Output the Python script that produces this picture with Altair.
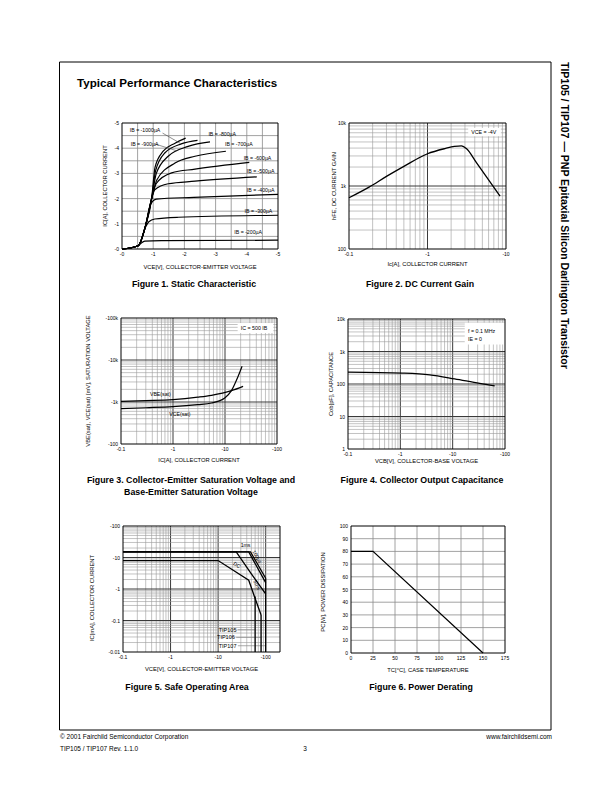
import altair as alt
import pandas as pd

FONT = "Liberation Sans"
W, H = 596, 776
M = 8  # page margin

# ---------------- Figure 1: static characteristic (|VCE| [V], |IC| [A]) ----------------
f1_v_200 = [0, 0.52, 0.62, 0.73, 1.27, 5.0]
f1_i_200 = [0, 0.13, 0.24, 0.31, 0.33, 0.35]
f1_v_300 = [0, 0.52, 0.75, 0.86, 1.05, 1.8, 5.0]
f1_i_300 = [0, 0.13, 0.85, 1.08, 1.19, 1.26, 1.34]
f1_v_400 = [0, 0.52, 0.75, 0.92, 1.1, 2.3, 5.0]
f1_i_400 = [0, 0.13, 0.9, 1.78, 1.98, 2.05, 2.17]
f1_v_500 = [0, 0.52, 0.75, 0.95, 1.05, 1.48, 2.34, 4.32]
f1_i_500 = [0, 0.13, 0.9, 2.0, 2.35, 2.59, 2.69, 2.86]
f1_v_600 = [0, 0.52, 0.75, 0.95, 1.1, 1.59, 2.34, 4.08]
f1_i_600 = [0, 0.13, 0.9, 2.0, 2.6, 3.02, 3.17, 3.44]
f1_v_700 = [0, 0.52, 0.75, 0.95, 1.12, 1.7, 2.34, 3.33]
f1_i_700 = [0, 0.13, 0.9, 2.0, 2.75, 3.41, 3.68, 3.88]
f1_v_800 = [0, 0.52, 0.75, 0.95, 1.1, 1.48, 2.12, 2.82]
f1_i_800 = [0, 0.13, 0.9, 2.0, 3.0, 3.68, 4.07, 4.25]
f1_v_900 = [0, 0.52, 0.75, 0.95, 1.08, 1.37, 1.9, 2.42]
f1_i_900 = [0, 0.13, 0.9, 2.0, 3.12, 3.81, 4.17, 4.31]
f1_v_1000 = [0, 0.52, 0.75, 0.95, 1.06, 1.32, 1.7, 2.04]
f1_i_1000 = [0, 0.13, 0.9, 2.0, 3.25, 3.88, 4.2, 4.40]
f1_label_text = ["IB = -1000µA", "IB = -900µA", "IB = -800µA", "IB = -700µA", "IB = -600µA",
                 "IB = -500µA", "IB = -400µA", "IB = -300µA", "IB = -200µA"]
f1_label_v = [0.25, 0.28, 2.77, 3.3, 3.9, 4.0, 4.0, 3.93, 3.6]
f1_label_i = [4.71, 4.17, 4.58, 4.18, 3.61, 3.08, 2.35, 1.49, 0.66]
f1_ptr1_v = [1.3, 1.86]
f1_ptr1_i = [4.6, 4.2]
f1_ptr2_v = [1.05, 1.75]
f1_ptr2_i = [4.17, 3.9]
f1_ticks = [0, 1, 2, 3, 4, 5]
f1_tick_labels = ["-0", "-1", "-2", "-3", "-4", "-5"]

# ---------------- Figure 2: DC current gain ----------------
f2_ic = [0.1, 0.18, 0.3, 0.5, 1.0, 1.7, 2.2, 2.7, 3.15, 4.2, 8.4]
f2_hfe = [650, 960, 1420, 2050, 3250, 3950, 4250, 4350, 3900, 2350, 690]
f2_xticks = [0.1, 1, 10]
f2_xlabels = ["-0.1", "-1", "-10"]
f2_yticks = [100, 1000, 10000]
f2_ylabels = ["100", "1k", "10k"]
f2_box_x = [3.3, 8.6]
f2_box_y = [6150, 8300]
f2_note = "VCE = -4V"
f2_note_x = 3.6
f2_note_y = 7100

# ---------------- Figure 3: saturation voltages (mV) ----------------
f3_ic_vbe = [0.1, 0.3, 1, 3, 5.5, 13.3, 22.3]
f3_vbe = [1040, 1080, 1140, 1300, 1440, 1860, 2360]
f3_ic_vce = [0.1, 0.3, 1, 3, 5.5, 9.9, 13.3, 17.9, 21.3]
f3_vce = [695, 730, 775, 865, 946, 1245, 1860, 4080, 7070]
f3_xticks = [0.1, 1, 10, 100]
f3_xlabels = ["-0.1", "-1", "-10", "-100"]
f3_yticks = [100, 1000, 10000, 100000]
f3_ylabels = ["-100", "-1k", "-10k", "-100k"]
f3_lab_text = ["VBE(sat)", "VCE(sat)"]
f3_lab_x = [0.36, 0.85]
f3_lab_y = [1550, 520]
f3_box_x = [17.5, 85]
f3_box_y = [44000, 76000]
f3_note = "IC = 500 IB"
f3_note_x = 20
f3_note_y = 58000

# ---------------- Figure 4: output capacitance ----------------
f4_vcb = [0.1, 1.09, 3.64, 10.9, 32.8, 63.5]
f4_cob = [232, 216, 192, 144, 104, 88]
f4_xticks = [0.1, 1, 10, 100]
f4_xlabels = ["-0.1", "-1", "-10", "-100"]
f4_yticks = [1, 10, 100, 1000, 10000]
f4_ylabels = ["1", "10", "100", "1k", "10k"]
f4_box_x = [17, 100]
f4_box_y = [1650, 7700]
f4_notes = ["f = 0.1 MHz", "IE = 0"]
f4_note_x = [19.6, 19.6]
f4_note_y = [4270, 2470]

# ---------------- Figure 5: safe operating area ----------------
f5_v_100us = [0.1, 48, 100]
f5_i_100us = [15, 15, 2.2]
f5_v_1ms = [0.1, 44, 100]
f5_i_1ms = [15, 15, 1.6]
f5_v_5ms = [0.1, 24, 50, 100]
f5_i_5ms = [15, 15, 3.0, 0.7]
f5_v_dc = [0.1, 10, 44, 58, 80]
f5_i_dc = [8, 8, 1.9, 0.58, 0.15]
f5_v_tip105 = [60, 60]
f5_i_tip105 = [0.58, 0.01]
f5_v_tip106 = [80, 80]
f5_i_tip106 = [0.15, 0.01]
f5_v_tip107 = [100, 100]
f5_i_tip107 = [2.2, 0.01]
f5_curve_text = ["1ms", "100µs", "DC", "5ms"]
f5_curve_v = [37.7, 66.5, 25, 66.5]
f5_curve_i = [25, 10.7, 5.8, 1.35]
f5_curve_angle = [0, 60, 35, 65]
f5_dev_text = ["TIP105", "TIP106", "TIP107"]
f5_dev_v = [10.3, 9.5, 10.3]
f5_dev_i = [0.051, 0.029, 0.0158]
f5_ptr_v0 = [26, 24, 26]
f5_ptr_v1 = [60, 80, 100]
f5_xticks = [0.1, 1, 10, 100]
f5_xlabels = ["-0.1", "-1", "-10", "-100"]
f5_yticks = [0.01, 0.1, 1, 10, 100]
f5_ylabels = ["-0.01", "-0.1", "-1", "-10", "-100"]

# ---------------- Figure 6: power derating ----------------
f6_tc = [0, 25, 150]
f6_pc = [80, 80, 0]
f6_xticks = [0, 25, 50, 75, 100, 125, 150, 175]
f6_yticks = [0, 10, 20, 30, 40, 50, 60, 70, 80, 90, 100]

captions = ["Figure 1. Static Characteristic", "Figure 2. DC Current Gain",
            "Figure 3. Collector-Emitter Saturation Voltage and", "Base-Emitter Saturation Voltage",
            "Figure 4. Collector Output Capacitance", "Figure 5. Safe Operating Area",
            "Figure 6. Power Derating"]

# ---------------- helpers ----------------
MINOR = dict(color="#9a9a9a", strokeWidth=0.6)
MAJOR = dict(color="#3a3a3a", strokeWidth=1.0)
LIN = dict(color="#8a8a8a", strokeWidth=0.8)


def log_grid(lo, hi):
    minor, major = [], []
    d = lo
    while d < hi:
        for k in range(1, 10):
            v = round(d * k, 10)
            if v <= lo * 1.0001 or v >= hi * 0.9999:
                continue
            (major if k == 1 else minor).append(v)
        d = round(d * 10, 10)
    return minor, major


def curves_df(pairs):
    rows = []
    for name, xs, ys in pairs:
        for i, (a, b) in enumerate(zip(xs, ys)):
            rows.append({"x": a, "y": b, "c": name, "o": i})
    return pd.DataFrame(rows)


def figure(box, xtype, xdom, ytype, ydom, xt, xl, yt, yl, xtitle, ytitle,
           xgrid, ygrid, extra, xtitle_y, ytitle_x, ytitle_y=None):
    x0, y0, x1, y1 = box[0] - M, box[1] - M, box[2] - M, box[3] - M
    xs = alt.Scale(type=xtype, domain=xdom, range=[x0, x1], nice=False)
    ys = alt.Scale(type=ytype, domain=ydom, range=[y1, y0], nice=False)

    def X(f):
        return alt.X(f, scale=xs, axis=None)

    def Y(f):
        return alt.Y(f, scale=ys, axis=None)

    layers = []
    for vals, style in xgrid:
        if vals:
            df = pd.DataFrame({"v": vals, "a": ydom[0], "b": ydom[1]})
            layers.append(alt.Chart(df).mark_rule(**style).encode(
                x=X("v:Q"), y=Y("a:Q"), y2="b:Q"))
    for vals, style in ygrid:
        if vals:
            df = pd.DataFrame({"v": vals, "a": xdom[0], "b": xdom[1]})
            layers.append(alt.Chart(df).mark_rule(**style).encode(
                y=Y("v:Q"), x=X("a:Q"), x2="b:Q"))
    layers += extra(X, Y)
    frame = pd.DataFrame({"a": [xdom[0]], "b": [xdom[1]], "c": [ydom[0]], "d": [ydom[1]]})
    layers.append(alt.Chart(frame).mark_rect(fillOpacity=0, stroke="black", strokeWidth=1).encode(
        x=X("a:Q"), x2="b:Q", y=Y("c:Q"), y2="d:Q"))
    # tick labels (positioned through the scales)
    layers.append(alt.Chart(pd.DataFrame({"v": xt, "t": xl})).mark_text(
        align="center", baseline="top", fontSize=5, font=FONT, color="black").encode(
        x=X("v:Q"), y=alt.value(y1 + 3), text="t:N"))
    layers.append(alt.Chart(pd.DataFrame({"v": yt, "t": yl})).mark_text(
        align="right", baseline="middle", fontSize=5, font=FONT, color="black").encode(
        y=Y("v:Q"), x=alt.value(x0 - 3), text="t:N"))
    # axis titles
    one = pd.DataFrame({"a": [0]})
    layers.append(alt.Chart(one).mark_text(
        text=xtitle, align="center", baseline="middle", fontSize=5.8, font=FONT,
        color="black").encode(x=alt.value((x0 + x1) / 2), y=alt.value(xtitle_y - M)))
    yc = (y0 + y1) / 2 if ytitle_y is None else ytitle_y - M
    layers.append(alt.Chart(one).mark_text(
        text=ytitle, align="center", baseline="middle", fontSize=5.8, font=FONT,
        color="black", angle=270).encode(x=alt.value(ytitle_x - M), y=alt.value(yc)))
    return alt.layer(*layers)


def line_layer(df, X, Y, interp="linear", sw=1.2, color="black"):
    return alt.Chart(df).mark_line(color=color, strokeWidth=sw, interpolate=interp).encode(
        x=X("x:Q"), y=Y("y:Q"), detail="c:N", order="o:Q")


def text_layer(xs_, ys_, ts, X, Y, size=5.3, align="left", angles=None):
    df = pd.DataFrame({"x": xs_, "y": ys_, "t": ts,
                       "ang": angles if angles is not None else [0] * len(ts)})
    return alt.Chart(df).mark_text(align=align, baseline="middle", fontSize=size, font=FONT,
                                   color="black").encode(
        x=X("x:Q"), y=Y("y:Q"), text="t:N", angle=alt.Angle("ang:Q", scale=None))


def box_layer(bx, by, X, Y):
    df = pd.DataFrame({"a": [bx[0]], "b": [bx[1]], "c": [by[0]], "d": [by[1]]})
    return alt.Chart(df).mark_rect(color="white").encode(
        x=X("a:Q"), x2="b:Q", y=Y("c:Q"), y2="d:Q")


# ---------------- figures ----------------
def f1_extra(X, Y):
    df = curves_df([("200", f1_v_200, f1_i_200), ("300", f1_v_300, f1_i_300),
                    ("400", f1_v_400, f1_i_400), ("500", f1_v_500, f1_i_500),
                    ("600", f1_v_600, f1_i_600), ("700", f1_v_700, f1_i_700),
                    ("800", f1_v_800, f1_i_800), ("900", f1_v_900, f1_i_900),
                    ("1000", f1_v_1000, f1_i_1000)])
    ptr = curves_df([("p1", f1_ptr1_v, f1_ptr1_i), ("p2", f1_ptr2_v, f1_ptr2_i)])
    return [line_layer(df, X, Y, interp="monotone", sw=1.2),
            line_layer(ptr, X, Y, sw=0.6, color="#444"),
            text_layer(f1_label_v, f1_label_i, f1_label_text, X, Y, size=5.2)]


half = [0.5, 1, 1.5, 2, 2.5, 3, 3.5, 4, 4.5]
fig1 = figure((122, 123, 278, 249), "linear", [0, 5], "linear", [0, 5],
              f1_ticks, f1_tick_labels, f1_ticks, f1_tick_labels,
              "VCE[V], COLLECTOR-EMITTER VOLTAGE", "IC[A], COLLECTOR CURRENT",
              [(half, LIN)], [(half, LIN)], f1_extra, 266.5, 105)


def f2_extra(X, Y):
    df = curves_df([("h", f2_ic, f2_hfe)])
    return [box_layer(f2_box_x, f2_box_y, X, Y),
            line_layer(df, X, Y, interp="monotone", sw=1.3),
            text_layer([f2_note_x], [f2_note_y], [f2_note], X, Y, size=5.3)]


gx2 = log_grid(0.1, 10)
gy2 = log_grid(100, 10000)
fig2 = figure((349, 123, 506, 249), "log", [0.1, 10], "log", [100, 10000],
              f2_xticks, f2_xlabels, f2_yticks, f2_ylabels,
              "Ic[A], COLLECTOR CURRENT", "hFE, DC CURRENT GAIN",
              [(gx2[0], MINOR), (gx2[1], MAJOR)], [(gy2[0], MINOR), (gy2[1], MAJOR)], f2_extra,
              264, 334)


def f3_extra(X, Y):
    df = curves_df([("vbe", f3_ic_vbe, f3_vbe), ("vce", f3_ic_vce, f3_vce)])
    return [box_layer(f3_box_x, f3_box_y, X, Y),
            line_layer(df, X, Y, interp="monotone", sw=1.2),
            text_layer(f3_lab_x, f3_lab_y, f3_lab_text, X, Y, size=5.2),
            text_layer([f3_note_x], [f3_note_y], [f3_note], X, Y, size=5.3)]


gx3 = log_grid(0.1, 100)
gy3 = log_grid(100, 100000)
fig3 = figure((121, 318, 277, 444), "log", [0.1, 100], "log", [100, 100000],
              f3_xticks, f3_xlabels, f3_yticks, f3_ylabels,
              "IC[A], COLLECTOR CURRENT", "VBE(sat), VCE(sat) [mV], SATURATION VOLTAGE",
              [(gx3[0], MINOR), (gx3[1], MAJOR)], [(gy3[0], MINOR), (gy3[1], MAJOR)], f3_extra,
              460, 88)


def f4_extra(X, Y):
    df = curves_df([("cob", f4_vcb, f4_cob)])
    return [box_layer(f4_box_x, f4_box_y, X, Y),
            line_layer(df, X, Y, interp="monotone", sw=1.3),
            text_layer(f4_note_x, f4_note_y, f4_notes, X, Y, size=5.3)]


gx4 = log_grid(0.1, 100)
gy4 = log_grid(1, 10000)
fig4 = figure((348, 319, 505, 449), "log", [0.1, 100], "log", [1, 10000],
              f4_xticks, f4_xlabels, f4_yticks, f4_ylabels,
              "VCB[V], COLLECTOR-BASE VOLTAGE", "Cob[pF], CAPACITANCE",
              [(gx4[0], MINOR), (gx4[1], MAJOR)], [(gy4[0], MINOR), (gy4[1], MAJOR)], f4_extra,
              461, 331)


def f5_extra(X, Y):
    df = curves_df([("100us", f5_v_100us, f5_i_100us), ("1ms", f5_v_1ms, f5_i_1ms),
                    ("5ms", f5_v_5ms, f5_i_5ms), ("dc", f5_v_dc, f5_i_dc),
                    ("t105", f5_v_tip105, f5_i_tip105), ("t106", f5_v_tip106, f5_i_tip106),
                    ("t107", f5_v_tip107, f5_i_tip107)])
    ptr = curves_df([(f"p{i}", [a, b], [c, c]) for i, (a, b, c) in
                     enumerate(zip(f5_ptr_v0, f5_ptr_v1, f5_dev_i))])
    return [line_layer(ptr, X, Y, sw=0.7, color="#888"),
            line_layer(df, X, Y, sw=1.3),
            text_layer(f5_curve_v, f5_curve_i, f5_curve_text, X, Y, size=5.2, align="center",
                       angles=f5_curve_angle),
            text_layer(f5_dev_v, f5_dev_i, f5_dev_text, X, Y, size=5.5)]


gx5 = log_grid(0.1, 200)
gy5 = log_grid(0.01, 100)
fig5 = figure((123, 526, 280, 652), "log", [0.1, 200], "log", [0.01, 100],
              f5_xticks, f5_xlabels, f5_yticks, f5_ylabels,
              "VCE[V], COLLECTOR-EMITTER VOLTAGE", "IC[mA], COLLECTOR CURRENT",
              [(gx5[0], MINOR), (gx5[1], MAJOR)], [(gy5[0], MINOR), (gy5[1], MAJOR)], f5_extra,
              669, 92, 598)


def f6_extra(X, Y):
    df = curves_df([("pd", f6_tc, f6_pc)])
    return [line_layer(df, X, Y, sw=1.2)]


fig6 = figure((351, 526, 505, 653), "linear", [0, 175], "linear", [0, 100],
              f6_xticks, [str(v) for v in f6_xticks], f6_yticks, [str(v) for v in f6_yticks],
              "TC[°C], CASE TEMPERATURE", "PC[W], POWER DISSIPATION",
              [(f6_xticks[1:-1], LIN)], [(f6_yticks[1:-1], LIN)], f6_extra,
              670, 323, 592)

# ---------------- page decorations ----------------
one = pd.DataFrame({"a": [0]})


def txt(s, x, y, size, weight="normal", align="left", baseline="middle", angle=0):
    return alt.Chart(one).mark_text(text=s, fontSize=size, fontWeight=weight, font=FONT,
                                    align=align, baseline=baseline, angle=angle,
                                    color="black").encode(
        x=alt.value(x - M), y=alt.value(y - M))


frame = alt.Chart(one).mark_rect(fillOpacity=0, stroke="black", strokeWidth=1).encode(
    x=alt.value(59.5 - M), x2=alt.value(551 - M), y=alt.value(62 - M), y2=alt.value(730 - M))

deco = [
    frame,
    txt("Typical Performance Characteristics", 77, 86.5, 11.6, "bold", baseline="alphabetic"),
    txt("TIP105 / TIP107 — PNP Epitaxial Silicon Darlington Transistor", 564, 62, 10.5, "bold",
        angle=90),
    txt(captions[0], 194, 284, 8.8, "bold", align="center"),
    txt(captions[1], 420, 284, 8.8, "bold", align="center"),
    txt(captions[2], 191, 480, 8.8, "bold", align="center"),
    txt(captions[3], 191, 492, 8.8, "bold", align="center"),
    txt(captions[4], 422, 480, 8.8, "bold", align="center"),
    txt(captions[5], 187, 687, 8.8, "bold", align="center"),
    txt(captions[6], 421, 687, 8.8, "bold", align="center"),
    txt("© 2001 Fairchild Semiconductor Corporation", 60, 736.5, 6.5),
    txt("www.fairchildsemi.com", 552, 736.5, 6.5, align="right"),
    txt("TIP105 / TIP107 Rev. 1.1.0", 60, 748.5, 6.5),
    txt("3", 305, 748.5, 6.5, align="center"),
]

chart = alt.layer(fig1, fig2, fig3, fig4, fig5, fig6, *deco).resolve_scale(
    x="independent", y="independent"
).properties(
    width=W, height=H, padding=0, autosize=alt.AutoSizeParams(type="none")
).configure_view(strokeWidth=0)

chart.save("out.html", embed_options={"renderer": "svg", "actions": False})
